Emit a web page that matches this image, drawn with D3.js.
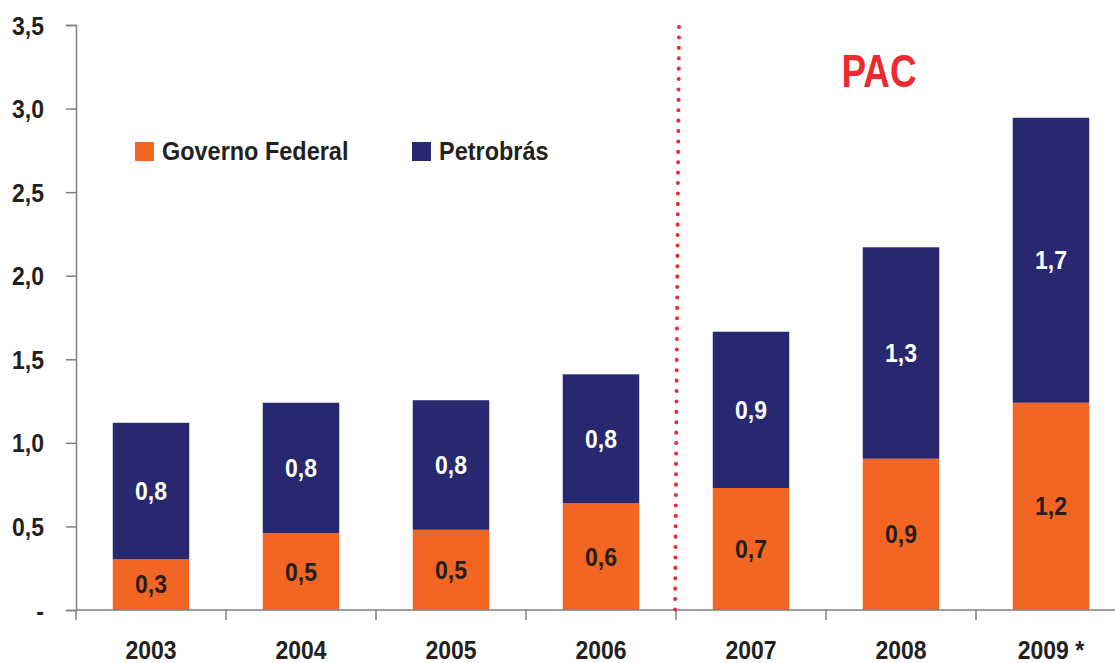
<!DOCTYPE html>
<html>
<head>
<meta charset="utf-8">
<script src="https://cdn.jsdelivr.net/npm/d3@7"></script>
<style>
	body { margin: 0; background: #fff; }
	text { font-family: "Liberation Sans", Arial, sans-serif; font-weight: bold; }
</style>
</head>
<body>
<script>
let years = ["2003", "2004", "2005", "2006", "2007", "2008", "2009 *"];
let governo = [0.305, 0.46, 0.48, 0.64, 0.73, 0.905, 1.24];
let petrobras = [0.815, 0.78, 0.775, 0.77, 0.935, 1.265, 1.705];
let series_names = ["Governo Federal", "Petrobrás"];
let y_ticks = [0, 0.5, 1.0, 1.5, 2.0, 2.5, 3.0, 3.5];
let pac_after = "2006";
let pac_label = "PAC";

let width = 1115;
let height = 663;
let colors = ["#f26522", "#27286f"];
let ink = "#231f20";

let svg = d3.select("body").append("svg")
	.attr("width", width)
	.attr("height", height);

let x = d3.scaleBand()
	.domain(years)
	.range([76, 1126])
	.paddingInner(0.49)
	.paddingOuter(0.245);

let y = d3.scaleLinear()
	.domain([0, 3.5])
	.range([610, 25]);

let comma = v => d3.format(".1f")(v).replace(".", ",");

// squeeze text horizontally around its own x, narrow-font look
function narrow(sel, s) {
	sel.attr("transform", function () {
		let tx = +d3.select(this).attr("x") || 0;
		return `translate(${tx * (1 - s)},0) scale(${s},1)`;
	});
}

// stacked data
let rows = years.map((yr, i) => ({ year: yr, governo: governo[i], petrobras: petrobras[i] }));
let stack = d3.stack().keys(["governo", "petrobras"])(rows);

// y axis
let yAxis = svg.append("g")
	.attr("transform", "translate(76,0)")
	.call(d3.axisLeft(y).tickValues(y_ticks).tickSize(10).tickPadding(22)
		.tickFormat(d => d === 0 ? "-" : comma(d)));
yAxis.select(".domain").attr("stroke", "#7f7f7f").attr("stroke-width", 1.5);
yAxis.selectAll(".tick line").attr("stroke", "#7f7f7f").attr("stroke-width", 1.5);
yAxis.selectAll(".tick text")
	.attr("fill", ink)
	.style("font-size", "25px")
	.attr("dy", "0.36em")
	.call(narrow, 0.92);

// bars
svg.append("g").selectAll("g")
	.data(stack)
	.join("g")
	.attr("fill", (_, i) => colors[i])
	.selectAll("rect")
	.data(d => d)
	.join("rect")
	.attr("x", d => x(d.data.year))
	.attr("width", x.bandwidth())
	.attr("y", d => y(d[1]))
	.attr("height", d => y(d[0]) - y(d[1]));

// bar value labels
svg.append("g").selectAll("g")
	.data(stack)
	.join("g")
	.attr("fill", (_, i) => i === 0 ? ink : "#ffffff")
	.selectAll("text")
	.data(d => d)
	.join("text")
	.attr("x", d => x(d.data.year) + x.bandwidth() / 2)
	.attr("y", d => (y(d[0]) + y(d[1])) / 2)
	.attr("dy", "0.36em")
	.attr("text-anchor", "middle")
	.style("font-size", "25px")
	.text(d => comma(d[1] - d[0]))
	.call(narrow, 0.92);

// x axis (ticks between categories)
let bounds = years.map(yr => x(yr) - x.step() * x.paddingInner() / 2);
let xg = svg.append("g");
xg.append("line")
	.attr("x1", 76).attr("x2", width)
	.attr("y1", y(0)).attr("y2", y(0))
	.attr("stroke", "#7f7f7f").attr("stroke-width", 1.5);
xg.selectAll(".xtick")
	.data(bounds)
	.join("line")
	.attr("class", "xtick")
	.attr("x1", d => d).attr("x2", d => d)
	.attr("y1", y(0)).attr("y2", y(0) + 10)
	.attr("stroke", "#7f7f7f").attr("stroke-width", 1.5);
xg.selectAll(".xlabel")
	.data(years)
	.join("text")
	.attr("class", "xlabel")
	.attr("x", d => x(d) + x.bandwidth() / 2)
	.attr("y", 659)
	.attr("text-anchor", "middle")
	.attr("fill", ink)
	.style("font-size", "25px")
	.text(d => d)
	.call(narrow, 0.92);

// PAC divider
let divX = x(pac_after) + x.bandwidth() + x.step() * x.paddingInner() / 2;
svg.append("line")
	.attr("x1", divX + 3).attr("x2", divX - 1)
	.attr("y1", 27).attr("y2", 618)
	.attr("stroke", "#ee2a2e")
	.attr("stroke-width", 4)
	.attr("stroke-linecap", "round")
	.attr("stroke-dasharray", "0.1 10.3");

// PAC label
svg.append("text")
	.attr("x", 879)
	.attr("y", 87)
	.attr("text-anchor", "middle")
	.attr("fill", "#ee2a2e")
	.style("font-size", "46px")
	.text(pac_label)
	.call(narrow, 0.8);

// legend
let legend = svg.append("g");
let legendX = [135, 412];
series_names.forEach((name, i) => {
	legend.append("rect")
		.attr("x", legendX[i]).attr("y", 142)
		.attr("width", 19).attr("height", 19)
		.attr("fill", colors[i]);
	legend.append("text")
		.attr("x", legendX[i] + 27)
		.attr("y", 160)
		.attr("fill", ink)
		.style("font-size", "25.5px")
		.text(name)
		.call(narrow, 0.92);
});
</script>
</body>
</html>
